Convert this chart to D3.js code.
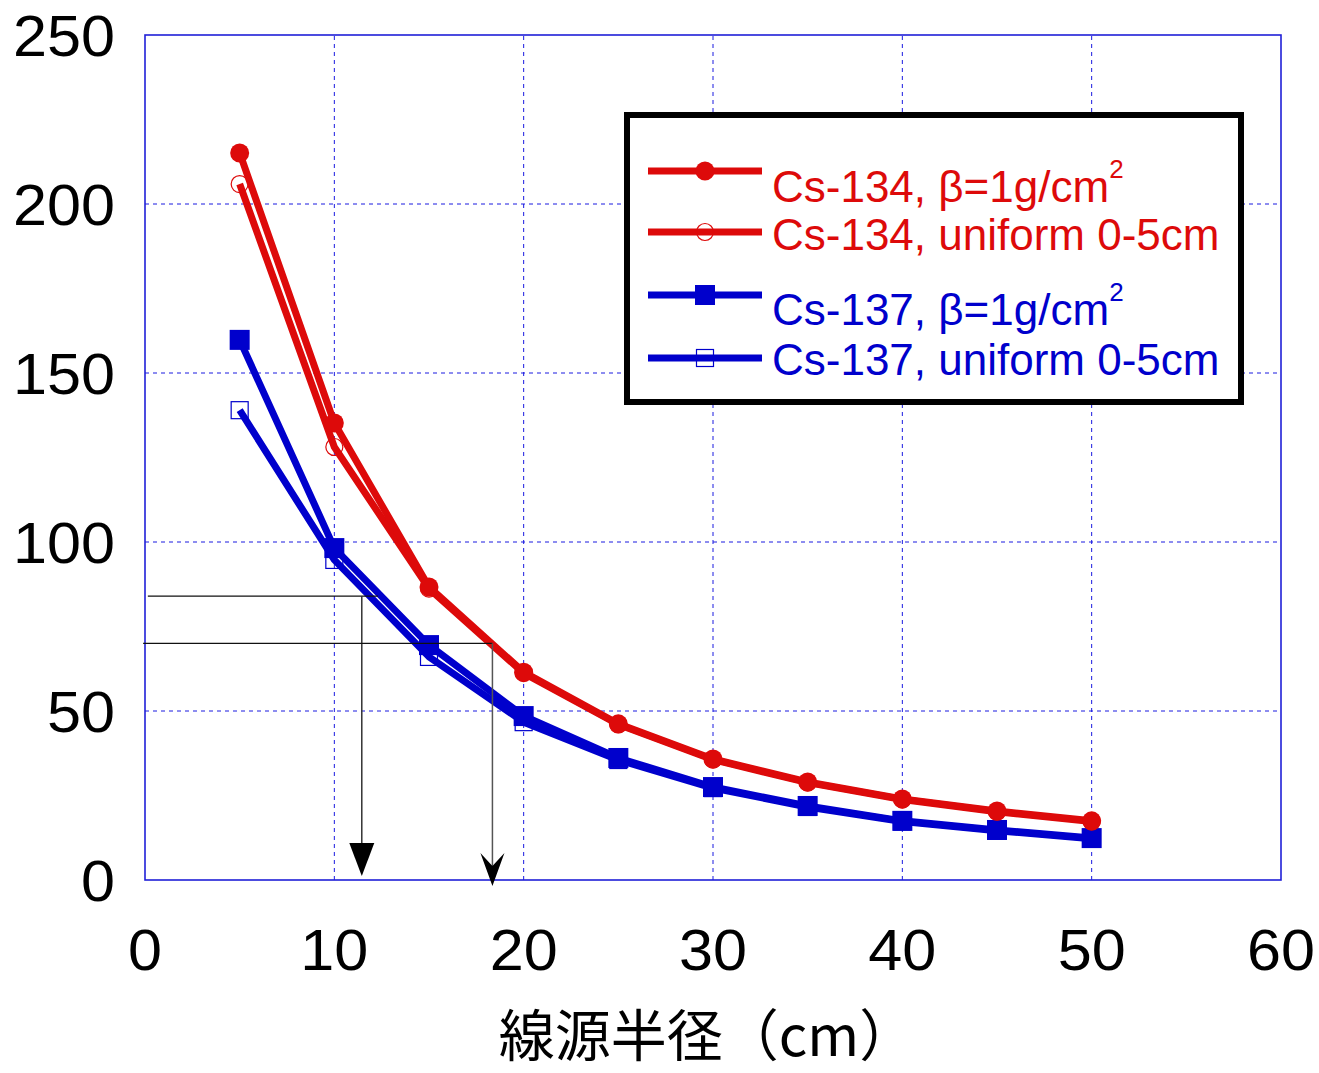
<!DOCTYPE html>
<html lang="ja">
<head>
<meta charset="UTF-8"/>
<script src="https://d3js.org/d3.v7.min.js"></script>
<style>
  body { margin: 0; background: #fff; }
  svg { display: block; }
  .tick-label { font-family: 'Liberation Sans', Arial, sans-serif; font-size: 58px; fill: #000; }
  .axis-title { font-family: 'Noto Sans CJK JP', sans-serif; font-size: 56px; fill: #000; }
  .legend-text { font-family: 'Liberation Sans', Arial, sans-serif; font-size: 44px; }
  .grid line { stroke: #1a1ae0; stroke-width: 1; stroke-dasharray: 4 4; }
</style>
</head>
<body>
<svg width="1319" height="1073"></svg>
<script>
const radius = [5, 10, 15, 20, 25, 30, 35, 40, 45, 50];
const cs134Beta    = [215.1, 135.2, 86.7, 61.5, 46.2, 35.8, 29.0, 24.0, 20.4, 17.5];
const cs134Uniform = [205.9, 128.1, 86.2, 61.2, 46.0, 35.6, 28.8, 23.8, 20.2, 17.3];
const cs137Beta    = [159.8, 98.2, 69.5, 48.5, 36.1, 27.5, 21.9, 17.5, 14.8, 12.4];
const cs137Uniform = [139.0, 94.7, 66.0, 46.7, 35.5, 27.2, 21.6, 17.3, 14.6, 12.2];
const xTicks = [0, 10, 20, 30, 40, 50, 60];
const yTicks = [0, 50, 100, 150, 200, 250];

// reading lines: horizontal from xStart to xEnd at y, then arrow down to the axis
const guides = [
  { y: 84.0, xStart: 0.15, xEnd: 12.3, xArrow: 11.45, head: 'solid' },
  { y: 70.0, xStart: -0.1, xEnd: 18.35, xArrow: 18.35, head: 'barb' }
];

const red = '#dd0a0a';
const blue = '#0000cc';

const series = [
  { name: 'Cs-137, uniform 0-5cm', values: cs137Uniform, color: blue, marker: 'square', filled: false },
  { name: 'Cs-137, β=1g/cm', sup: '2', values: cs137Beta, color: blue, marker: 'square', filled: true },
  { name: 'Cs-134, uniform 0-5cm', values: cs134Uniform, color: red, marker: 'circle', filled: false },
  { name: 'Cs-134, β=1g/cm', sup: '2', values: cs134Beta, color: red, marker: 'circle', filled: true }
];

const svg = d3.select('svg');
const x = d3.scaleLinear().domain([0, 60]).range([145, 1281]);
const y = d3.scaleLinear().domain([0, 250]).range([880, 35]);

// grid
const grid = svg.append('g').attr('class', 'grid');
grid.selectAll('.vx').data(xTicks.slice(1, -1)).enter().append('line')
  .attr('x1', d => x(d)).attr('x2', d => x(d)).attr('y1', y(0)).attr('y2', y(250));
grid.selectAll('.hy').data(yTicks.slice(1, -1)).enter().append('line')
  .attr('y1', d => y(d)).attr('y2', d => y(d)).attr('x1', x(0)).attr('x2', x(60));

// frame
svg.append('rect')
  .attr('x', x(0)).attr('y', y(250))
  .attr('width', x(60) - x(0)).attr('height', y(0) - y(250))
  .attr('fill', 'none').attr('stroke', '#2020d8').attr('stroke-width', 1.6);

// tick labels (the original font is a little wider than Liberation Sans)
svg.selectAll('.xt').data(xTicks).enter().append('text')
  .attr('class', 'tick-label')
  .attr('x', d => x(d)).attr('y', 970)
  .attr('text-anchor', 'middle')
  .attr('textLength', d => String(d).length * 34)
  .attr('lengthAdjust', 'spacingAndGlyphs')
  .text(d => d);
svg.selectAll('.yt').data(yTicks).enter().append('text')
  .attr('class', 'tick-label')
  .attr('x', 115).attr('y', d => y(d) + 21)
  .attr('text-anchor', 'end')
  .attr('textLength', d => String(d).length * 34)
  .attr('lengthAdjust', 'spacingAndGlyphs')
  .text(d => d);

svg.append('text')
  .attr('class', 'axis-title')
  .attr('x', 707).attr('y', 1056)
  .attr('text-anchor', 'middle')
  .text('線源半径（cm）');

// series
const line = d3.line().x((d, i) => x(radius[i])).y(d => y(d));

function drawMarker(g, type, filled, color, cx, cy) {
  if (type === 'circle') {
    const r = filled ? 9.5 : 8.5;
    g.append('circle').attr('cx', cx).attr('cy', cy).attr('r', r)
      .attr('fill', filled ? color : 'none')
      .attr('stroke', color).attr('stroke-width', filled ? 0 : 1.2);
  } else {
    const s = filled ? 20 : 17;
    g.append('rect').attr('x', cx - s / 2).attr('y', cy - s / 2)
      .attr('width', s).attr('height', s)
      .attr('fill', filled ? color : 'none')
      .attr('stroke', color).attr('stroke-width', filled ? 0 : 1.2);
  }
}

series.forEach(s => {
  const g = svg.append('g');
  if (!s.filled) {
    s.values.forEach((v, i) => drawMarker(g, s.marker, s.filled, s.color, x(radius[i]), y(v)));
  }
  g.append('path').datum(s.values)
    .attr('d', line)
    .attr('fill', 'none')
    .attr('stroke', s.color)
    .attr('stroke-width', 7)
    .attr('stroke-linejoin', 'round');
  if (s.filled) {
    s.values.forEach((v, i) => drawMarker(g, s.marker, s.filled, s.color, x(radius[i]), y(v)));
  }
});

// guide lines and arrows
guides.forEach(gd => {
  const g = svg.append('g');
  const yy = y(gd.y);
  const ax = x(gd.xArrow);
  g.append('line').attr('x1', x(gd.xStart)).attr('x2', x(gd.xEnd))
    .attr('y1', yy).attr('y2', yy).attr('stroke', '#111').attr('stroke-width', 1.3);
  if (gd.head === 'solid') {
    const tip = y(0) - 4;
    g.append('line').attr('x1', ax).attr('x2', ax).attr('y1', yy).attr('y2', tip - 30)
      .attr('stroke', '#333').attr('stroke-width', 1.5);
    g.append('path')
      .attr('d', `M${ax},${tip} L${ax - 12.5},${tip - 33} L${ax + 12.5},${tip - 33} Z`)
      .attr('fill', '#000');
  } else {
    const tip = y(0) + 6;
    g.append('line').attr('x1', ax).attr('x2', ax).attr('y1', yy).attr('y2', tip - 18)
      .attr('stroke', '#555').attr('stroke-width', 1.5);
    g.append('path')
      .attr('d', `M${ax},${tip} L${ax - 12},${tip - 33} L${ax},${tip - 20} L${ax + 12},${tip - 33} Z`)
      .attr('fill', '#000');
  }
});

// legend
const legend = svg.append('g');
legend.append('rect')
  .attr('x', 627).attr('y', 115).attr('width', 614).attr('height', 287)
  .attr('fill', '#fff').attr('stroke', '#000').attr('stroke-width', 6);

const legendOrder = [series[3], series[2], series[1], series[0]];
const legendRows = [171, 232, 295, 358];
const legendBase = [202, 250, 325, 375];
legendOrder.forEach((s, i) => {
  const ly = legendRows[i];
  legend.append('line').attr('x1', 648).attr('x2', 762).attr('y1', ly).attr('y2', ly)
    .attr('stroke', s.color).attr('stroke-width', 7);
  drawMarker(legend, s.marker, s.filled, s.color, 705, ly);
  const t = legend.append('text')
    .attr('class', 'legend-text')
    .attr('x', 772).attr('y', legendBase[i])
    .attr('fill', s.color)
    .text(s.name);
  if (s.sup) {
    t.append('tspan').attr('dy', -24).attr('font-size', 26).text(s.sup);
  }
});
</script>
</body>
</html>
